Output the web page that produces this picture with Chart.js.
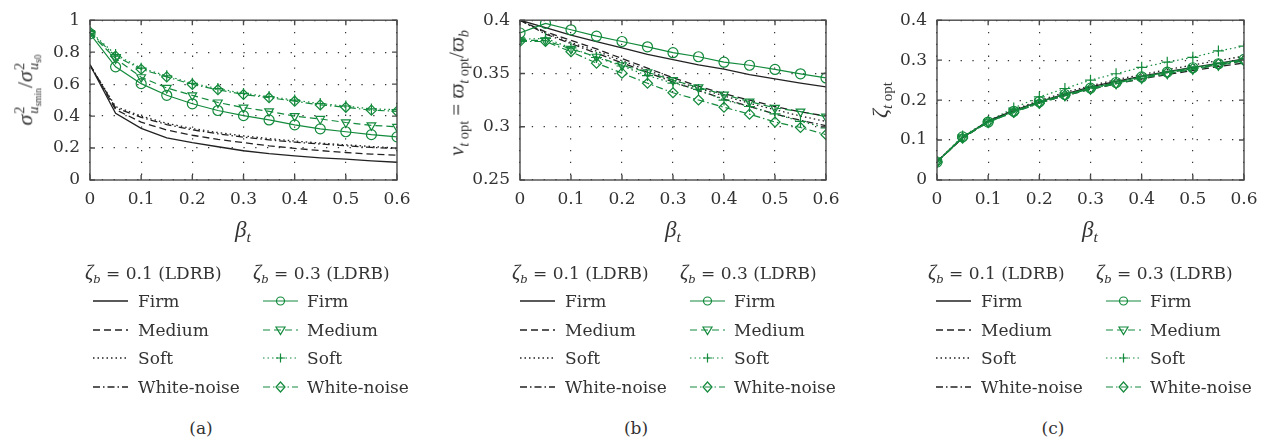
<!DOCTYPE html>
<html>
<head>
<meta charset="utf-8">
<script src="https://cdn.jsdelivr.net/npm/chart.js@4.4.1/dist/chart.umd.min.js"></script>
<style>
body { margin: 0; background: #fff; }
#wrap { position: relative; width: 1269px; height: 444px; overflow: hidden; font-family: "DejaVu Serif", serif; color: #333; }
canvas { position: absolute; top: 0; }
.t { position: absolute; white-space: nowrap; line-height: 1; transform: translateY(-50%); }
.c { transform: translate(-50%, -50%); }
.rot { transform: translate(-50%, -50%) rotate(-90deg); font-family: "Liberation Serif", serif; }
.m { font-family: "Liberation Serif", serif; }
sub { font-size: 0.68em; vertical-align: -0.35em; line-height: 0; }
.st { display: inline-flex; flex-direction: column; vertical-align: middle; font-size: 0.66em; line-height: 0.95; margin-left: 1px; }
.st sub { font-size: 0.65em; vertical-align: -0.3em; }
svg { position: absolute; overflow: visible; }
</style>
</head>
<body>
<div id="wrap">
  <canvas id="chartA" width="420" height="240" style="left:0px"></canvas>
  <canvas id="chartB" width="420" height="240" style="left:430px"></canvas>
  <canvas id="chartC" width="419" height="240" style="left:850px"></canvas>

  <div class="t rot" style="left:27px;top:90px;font-size:22px"><i>σ</i><span class="st"><span>2</span><span><i>u</i><sub>smin</sub></span></span>/<i>σ</i><span class="st"><span>2</span><span><i>u</i><sub>s0</sub></span></span></div>
  <div class="t rot" style="left:457px;top:93px;font-size:21px"><i>ν</i><sub><i>t</i> opt</sub> = <i>ϖ</i><sub><i>t</i> opt</sub>/<i>ϖ</i><sub><i>b</i></sub></div>
  <div class="t rot" style="left:880px;top:100px;font-size:22px"><i>ζ</i><sub><i>t</i> opt</sub></div>

  <div class="t c m" style="left:243px;top:229px;font-size:23px"><i>β</i><sub><i>t</i></sub></div>
  <div class="t c m" style="left:673px;top:229px;font-size:23px"><i>β</i><sub><i>t</i></sub></div>
  <div class="t c m" style="left:1090px;top:229px;font-size:23px"><i>β</i><sub><i>t</i></sub></div>

  <div class="t c" style="left:201px;top:428px;font-size:17px">(a)</div>
  <div class="t c" style="left:636px;top:428px;font-size:17px">(b)</div>
  <div class="t c" style="left:1053px;top:428px;font-size:17px">(c)</div>
</div>

<script>
// beta_t values along the x axis
var betaT = [0, 0.05, 0.1, 0.15, 0.2, 0.25, 0.3, 0.35, 0.4, 0.45, 0.5, 0.55, 0.6];
var soilNames = ['Firm', 'Medium', 'Soft', 'White-noise'];
var groupTitles = ['0.1', '0.3'];

// (a) variance ratio
var aFirm01   = [0.72, 0.418, 0.323, 0.264, 0.234, 0.208, 0.183, 0.165, 0.151, 0.139, 0.130, 0.120, 0.111];
var aMedium01 = [0.72, 0.441, 0.362, 0.313, 0.280, 0.254, 0.234, 0.214, 0.198, 0.184, 0.172, 0.162, 0.155];
var aSoft01   = [0.72, 0.460, 0.400, 0.355, 0.322, 0.297, 0.276, 0.259, 0.244, 0.231, 0.220, 0.210, 0.201];
var aWhite01  = [0.72, 0.452, 0.392, 0.347, 0.314, 0.289, 0.268, 0.251, 0.237, 0.225, 0.214, 0.204, 0.196];
var aFirm03   = [0.915, 0.708, 0.603, 0.530, 0.477, 0.435, 0.403, 0.376, 0.345, 0.320, 0.302, 0.284, 0.270];
var aMedium03 = [0.920, 0.760, 0.643, 0.576, 0.530, 0.485, 0.453, 0.430, 0.400, 0.382, 0.360, 0.342, 0.333];
var aSoft03   = [0.930, 0.785, 0.700, 0.652, 0.605, 0.572, 0.542, 0.522, 0.500, 0.478, 0.463, 0.445, 0.440];
var aWhite03  = [0.925, 0.775, 0.693, 0.645, 0.598, 0.565, 0.535, 0.515, 0.493, 0.470, 0.455, 0.437, 0.430];

// (b) optimum frequency ratio
var bFirm01   = [0.400, 0.393, 0.386, 0.380, 0.374, 0.368, 0.363, 0.358, 0.354, 0.349, 0.345, 0.341, 0.3375];
var bMedium01 = [0.400, 0.389, 0.381, 0.373, 0.364, 0.355, 0.346, 0.338, 0.331, 0.325, 0.319, 0.314, 0.310];
var bSoft01   = [0.400, 0.388, 0.379, 0.371, 0.362, 0.353, 0.344, 0.336, 0.329, 0.322, 0.316, 0.310, 0.305];
var bWhite01  = [0.400, 0.387, 0.378, 0.369, 0.360, 0.351, 0.342, 0.334, 0.326, 0.319, 0.312, 0.306, 0.301];
var bFirm03   = [0.388, 0.397, 0.391, 0.385, 0.380, 0.375, 0.3695, 0.3657, 0.3606, 0.3577, 0.3538, 0.3497, 0.3458];
var bMedium03 = [0.381, 0.381, 0.373, 0.3657, 0.3577, 0.3511, 0.3437, 0.3369, 0.3302, 0.3236, 0.3177, 0.3142, 0.3094];
var bSoft03   = [0.382, 0.383, 0.374, 0.365, 0.357, 0.348, 0.341, 0.335, 0.325, 0.319, 0.312, 0.305, 0.299];
var bWhite03  = [0.380, 0.380, 0.3704, 0.3597, 0.3503, 0.3408, 0.3319, 0.3251, 0.3183, 0.3118, 0.3044, 0.2993, 0.2925];

// (c) optimum damping ratio
var cFirm01   = [0.046, 0.106, 0.148, 0.174, 0.196, 0.215, 0.233, 0.247, 0.260, 0.271, 0.282, 0.292, 0.303];
var cMedium01 = [0.046, 0.105, 0.146, 0.172, 0.193, 0.211, 0.227, 0.241, 0.253, 0.264, 0.274, 0.284, 0.293];
var cSoft01   = [0.046, 0.107, 0.148, 0.176, 0.199, 0.219, 0.236, 0.251, 0.264, 0.276, 0.288, 0.299, 0.310];
var cWhite01  = [0.046, 0.106, 0.147, 0.173, 0.195, 0.213, 0.230, 0.245, 0.257, 0.269, 0.279, 0.289, 0.299];
var cFirm03   = [0.045, 0.108, 0.145, 0.172, 0.196, 0.214, 0.230, 0.244, 0.258, 0.270, 0.281, 0.291, 0.302];
var cMedium03 = [0.045, 0.107, 0.144, 0.170, 0.193, 0.211, 0.227, 0.241, 0.254, 0.266, 0.277, 0.287, 0.298];
var cSoft03   = [0.045, 0.110, 0.147, 0.180, 0.208, 0.229, 0.250, 0.266, 0.282, 0.295, 0.307, 0.323, 0.335];
var cWhite03  = [0.045, 0.105, 0.145, 0.169, 0.192, 0.212, 0.228, 0.242, 0.257, 0.269, 0.279, 0.290, 0.299];

var GREEN = '#138a3c';
var BLACK = '#222';
var dashes = [[], [7, 4], [1.5, 3], [7, 3, 1.5, 3]];
var markers = ['circle', 'triangle', 'cross', 'rectRot'];

function pts(vals) {
    return betaT.map(function(b, i){ return {x: b, y: vals[i]}; });
}

function buildSets(black, green) {
    var sets = [];
    // green first so it's drawn on top
    green.forEach(function(v, k){
        sets.push({
            data: pts(v), borderColor: GREEN, borderWidth: 1.2, borderDash: dashes[k],
            pointStyle: markers[k], pointRadius: k == 2 ? 5.5 : 5, pointRotation: k == 1 ? 180 : 0,
            pointBorderColor: GREEN, pointBackgroundColor: 'rgba(0,0,0,0)', pointBorderWidth: 1.2,
            tension: 0
        });
    });
    black.forEach(function(v, k){
        sets.push({
            data: pts(v), borderColor: BLACK, borderWidth: 1.3, borderDash: dashes[k],
            pointRadius: 0, tension: 0
        });
    });
    return sets;
}

var frame = {
    id: 'frame',
    afterDraw: function(chart){
        var ctx = chart.ctx, a = chart.chartArea, x = chart.scales.x, y = chart.scales.y;
        ctx.save();
        ctx.strokeStyle = '#4a4a4a';
        ctx.lineWidth = 1.4;
        ctx.setLineDash([]);
        ctx.beginPath();
        x.ticks.forEach(function(t){
            var px = x.getPixelForValue(t.value);
            ctx.moveTo(px, a.bottom); ctx.lineTo(px, a.bottom - 5);
            ctx.moveTo(px, a.top); ctx.lineTo(px, a.top + 5);
        });
        y.ticks.forEach(function(t){
            var py = y.getPixelForValue(t.value);
            ctx.moveTo(a.left, py); ctx.lineTo(a.left + 5, py);
            ctx.moveTo(a.right, py); ctx.lineTo(a.right - 5, py);
        });
        ctx.stroke();
        ctx.strokeRect(a.left, a.top, a.right - a.left, a.bottom - a.top);
        ctx.restore();
    }
};

function fmt(v) { return String(Math.round(v * 1000) / 1000); }

function makeChart(id, black, green, yMin, yMax, yStep, yW, padR) {
    var tickFont = {family: 'DejaVu Serif', size: 17};
    return new Chart(document.getElementById(id), {
        type: 'line',
        data: { datasets: buildSets(black, green) },
        options: {
            responsive: false, animation: false, devicePixelRatio: 1,
            layout: { padding: {top: 11, right: padR, left: 0, bottom: 0} },
            plugins: { legend: {display: false}, tooltip: {enabled: false} },
            scales: {
                x: {
                    type: 'linear', min: 0, max: 0.6,
                    ticks: {stepSize: 0.1, font: tickFont, color: '#333', padding: 9, maxRotation: 0, callback: fmt},
                    grid: {color: '#333', lineWidth: 1.2, drawTicks: false},
                    border: {display: false, dash: [1.3, 10.5]},
                    afterFit: function(s){ s.height = 60; }
                },
                y: {
                    min: yMin, max: yMax,
                    ticks: {stepSize: yStep, font: tickFont, color: '#333', padding: 10, callback: fmt},
                    grid: {color: '#333', lineWidth: 1.2, drawTicks: false},
                    border: {display: false, dash: [1.3, 10.5]},
                    afterFit: function(s){ s.width = yW; }
                }
            }
        },
        plugins: [frame]
    });
}

makeChart('chartA', [aFirm01, aMedium01, aSoft01, aWhite01], [aFirm03, aMedium03, aSoft03, aWhite03], 0, 1, 0.2, 90, 23);
makeChart('chartB', [bFirm01, bMedium01, bSoft01, bWhite01], [bFirm03, bMedium03, bSoft03, bWhite03], 0.25, 0.4, 0.05, 90, 24);
makeChart('chartC', [cFirm01, cMedium01, cSoft01, cWhite01], [cFirm03, cMedium03, cSoft03, cWhite03], 0, 0.4, 0.1, 87, 25);

// legends below each panel
var wrap = document.getElementById('wrap');
var offsets = [0, 427, 843];
var rowY = [301, 330, 358, 387];

function markerSvg(k, cx, cy) {
    var s = 'fill="none" stroke="' + GREEN + '" stroke-width="1.2"';
    if (k == 0) return '<circle cx="' + cx + '" cy="' + cy + '" r="4" ' + s + '/>';
    if (k == 1) return '<polygon points="' + (cx-4.5) + ',' + (cy-3) + ' ' + (cx+4.5) + ',' + (cy-3) + ' ' + cx + ',' + (cy+4.5) + '" ' + s + '/>';
    if (k == 2) return '<path d="M' + (cx-4.5) + ' ' + cy + 'H' + (cx+4.5) + 'M' + cx + ' ' + (cy-4.5) + 'V' + (cy+4.5) + '" ' + s + '/>';
    return '<polygon points="' + cx + ',' + (cy-5) + ' ' + (cx+4.5) + ',' + cy + ' ' + cx + ',' + (cy+5) + ' ' + (cx-4.5) + ',' + cy + '" ' + s + '/>';
}

function addText(html, left, top, size) {
    var d = document.createElement('div');
    d.className = 't';
    d.style.left = left + 'px';
    d.style.top = top + 'px';
    d.style.fontSize = size + 'px';
    d.innerHTML = html;
    wrap.appendChild(d);
}

offsets.forEach(function(o){
    addText('<i class="m" style="font-size:1.2em">ζ</i><sub><i>b</i></sub> = ' + groupTitles[0] + ' (LDRB)', 85 + o, 272, 17);
    addText('<i class="m" style="font-size:1.2em">ζ</i><sub><i>b</i></sub> = ' + groupTitles[1] + ' (LDRB)', 253 + o, 272, 17);
    soilNames.forEach(function(name, k){
        var y = rowY[k];
        var da = dashes[k].length ? ' stroke-dasharray="' + dashes[k].join(' ') + '"' : '';
        var svg = document.createElementNS('http://www.w3.org/2000/svg', 'svg');
        svg.setAttribute('width', 1269); svg.setAttribute('height', 444);
        svg.style.left = '0px'; svg.style.top = '0px';
        svg.innerHTML =
            '<line x1="' + (93 + o) + '" y1="' + y + '" x2="' + (128 + o) + '" y2="' + y + '" stroke="' + BLACK + '" stroke-width="1.3"' + da + '/>' +
            '<line x1="' + (263 + o) + '" y1="' + y + '" x2="' + (298 + o) + '" y2="' + y + '" stroke="' + GREEN + '" stroke-width="1.2"' + da + '/>' +
            markerSvg(k, 280.5 + o, y);
        wrap.appendChild(svg);
        addText(name, 138 + o, y, 17);
        addText(name, 307 + o, y, 17);
    });
});
</script>
</body>
</html>
